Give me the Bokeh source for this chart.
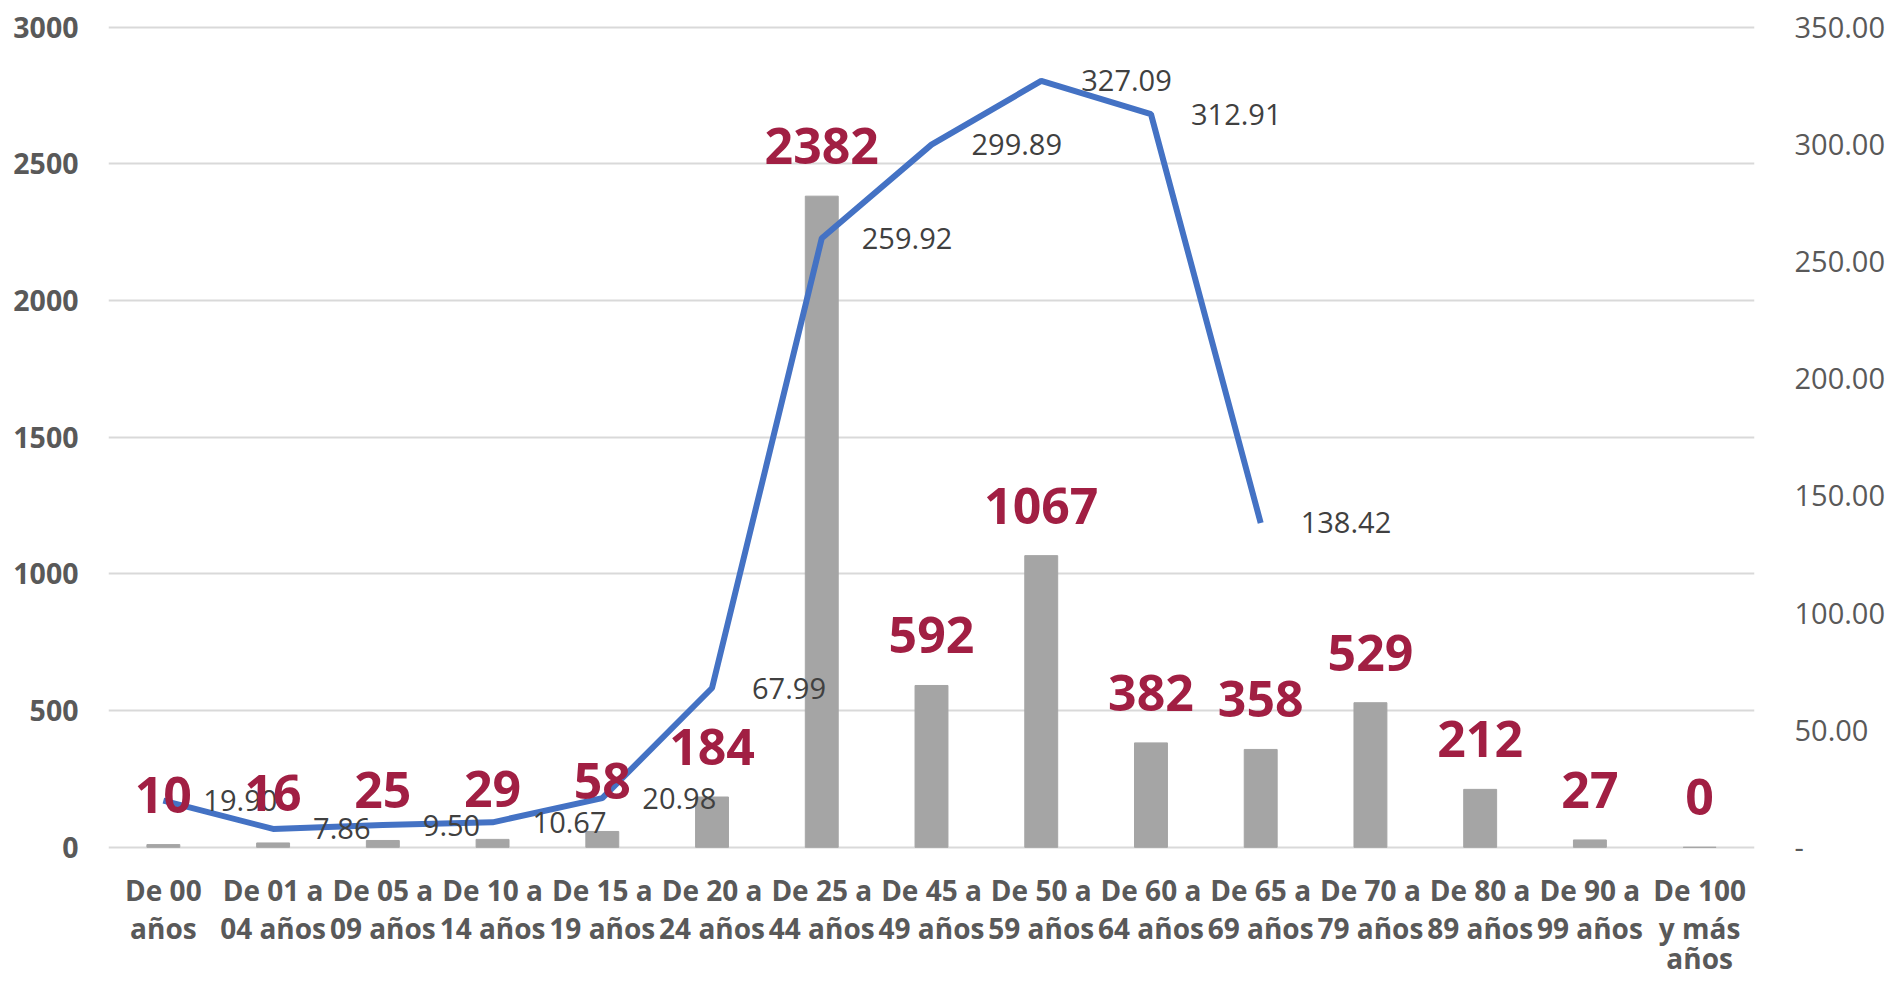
from bokeh.plotting import figure
from bokeh.models import (Range1d, LinearAxis, CategoricalAxis, FixedTicker,
                          NumeralTickFormatter, FactorRange, CustomJSTickFormatter)
from bokeh.core.properties import value
from bokeh.embed import file_html
from bokeh.resources import INLINE

categories = ["De 00 años", "De 01 a 04 años", "De 05 a 09 años", "De 10 a 14 años",
              "De 15 a 19 años", "De 20 a 24 años", "De 25 a 44 años", "De 45 a 49 años",
              "De 50 a 59 años", "De 60 a 64 años", "De 65 a 69 años", "De 70 a 79 años",
              "De 80 a 89 años", "De 90 a 99 años", "De 100 y más años"]
label_line1 = ["De 00", "De 01 a", "De 05 a", "De 10 a", "De 15 a", "De 20 a", "De 25 a",
               "De 45 a", "De 50 a", "De 60 a", "De 65 a", "De 70 a", "De 80 a", "De 90 a",
               "De 100"]
label_line2 = ["años", "04 años", "09 años", "14 años", "19 años", "24 años", "44 años",
               "49 años", "59 años", "64 años", "69 años", "79 años", "89 años", "99 años",
               "y más"]
label_line3 = ["", "", "", "", "", "", "", "", "", "", "", "", "", "", "años"]
bar_values = [10, 16, 25, 29, 58, 184, 2382, 592, 1067, 382, 358, 529, 212, 27, 0]
line_values = [19.90, 7.86, 9.50, 10.67, 20.98, 67.99, 259.92, 299.89, 327.09, 312.91, 138.42]
left_ticks = [0, 500, 1000, 1500, 2000, 2500, 3000]
right_ticks = [0, 50, 100, 150, 200, 250, 300, 350]

FONT = "Open Sans"
AXIS_COLOR = "#595959"

p = figure(x_range=FactorRange(factors=categories), y_range=Range1d(-8, 3010),
           width=1888, height=981, output_backend="svg", toolbar_location=None,
           min_border_left=108, min_border_right=134, min_border_top=24, min_border_bottom=132)
p.extra_y_ranges = {"rate": Range1d(-8 * 350 / 3000, 3010 * 350 / 3000)}
p.outline_line_color = None
p.xgrid.grid_line_color = None
p.ygrid.grid_line_color = "#D9D9D9"
p.ygrid.grid_line_width = 2


def style_axis(ax, size, bold, standoff):
    ax.axis_line_color = None
    ax.major_tick_line_color = None
    ax.minor_tick_line_color = None
    ax.major_tick_out = 0
    ax.major_tick_in = 0
    ax.minor_tick_out = 0
    ax.major_label_text_font = FONT
    ax.major_label_text_font_style = "bold" if bold else "normal"
    ax.major_label_text_font_size = size
    ax.major_label_text_color = AXIS_COLOR
    ax.major_label_standoff = standoff


def line_formatter(lines):
    return CustomJSTickFormatter(
        args=dict(cats=categories, labels=lines),
        code="const i = cats.indexOf(tick); return i >= 0 ? labels[i] : '';")


# left axis
ya = p.yaxis[0]
ya.ticker = FixedTicker(ticks=left_ticks)
style_axis(ya, "28.5px", True, 30)

# bottom axes: one per text line
xa = p.xaxis[0]
style_axis(xa, "28px", True, 21)
xa.formatter = line_formatter(label_line1)
for lines, standoff in ((label_line2, -3), (label_line3, -11)):
    ax = CategoricalAxis(formatter=line_formatter(lines))
    style_axis(ax, "28px", True, standoff)
    p.add_layout(ax, "below")

# right axis
ra = LinearAxis(y_range_name="rate", ticker=FixedTicker(ticks=right_ticks),
                formatter=NumeralTickFormatter(format="0.00"),
                major_label_overrides={0: "-"})
style_axis(ra, "29px", False, 40)
p.add_layout(ra, "right")

p.vbar(x=categories, top=bar_values, width=0.3, color="#A5A5A5")

p.line(x=categories[:len(line_values)], y=line_values, y_range_name="rate",
       line_color="#4472C4", line_width=6)

p.text(x=categories[:len(line_values)], y=line_values, y_range_name="rate",
       text=[f"{v:.2f}" for v in line_values], x_offset=40,
       text_align="left", text_baseline="middle", text_font=value(FONT),
       text_font_size="29px", text_color="#404040")

p.text(x=categories, y=bar_values, text=[str(v) for v in bar_values], y_offset=-50,
       text_align="center", text_baseline="middle", text_font=value(FONT),
       text_font_style="bold", text_font_size="50px", text_color="#A11F43")

open("out.html", "w").write(file_html(p, INLINE))
